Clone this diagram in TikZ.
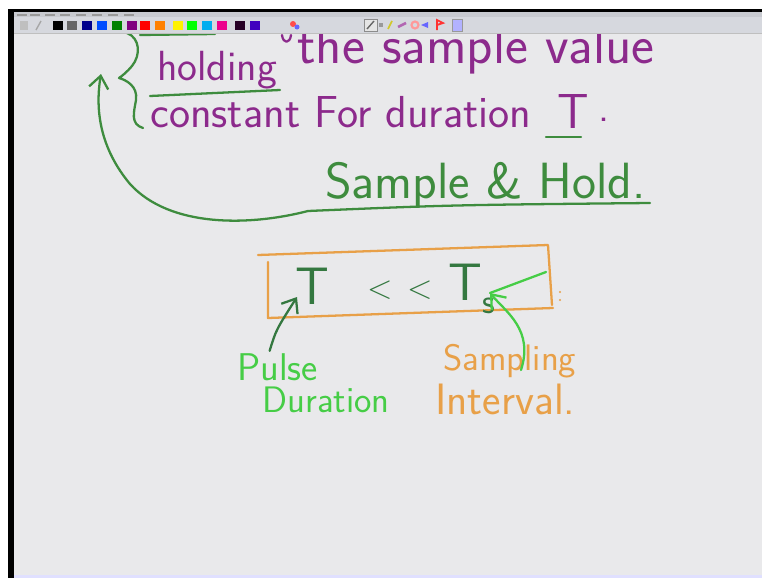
\documentclass[tikz,border=0pt]{standalone}
\RequirePackage{xcolor}
\tikzset{every picture/.style={/utils/exec={\sffamily}}}
\usetikzlibrary{calc}
\usetikzlibrary{positioning}
\usetikzlibrary{arrows.meta}

\definecolor{inkpurple}{RGB}{140,42,140}
\definecolor{inkgreen}{RGB}{62,140,62}
\definecolor{inklime}{RGB}{70,205,70}
\definecolor{inkdark}{RGB}{52,120,64}
\definecolor{inkorange}{RGB}{232,160,72}
\definecolor{board}{RGB}{233,233,235}
\definecolor{barfill}{RGB}{214,216,222}
\definecolor{titlebar}{RGB}{200,202,208}

\newcommand{\hand}[1]{\fontsize{#1}{#1}\selectfont}

\tikzset{
  pen/.style={line width=1.3pt, line cap=round, line join=round},
  word/.style={inner sep=0pt, anchor=base west},
}

\begin{document}
\begin{tikzpicture}[x=0.02cm, y=-0.02cm, >={Straight Barb[length=7pt,width=11pt]}]
  \useasboundingbox (0,0) rectangle (762,578);
  \fill [white] (0,0) rectangle (762,578);
  \fill [black] (8,9) rectangle (762,12);
  \fill [black] (8,9) rectangle (14,578);
  \fill [board] (14,12) rectangle (762,575);
  \fill [blue!12] (14,575) rectangle (762,578);

  % purple lines of the note
  \node [word, text=inkpurple] (holding) at (157,80) {\hand{24}holding};
  \node [word, text=inkpurple] (sampleval) at (297,64) {\hand{31}the sample value};
  \node [word, text=inkpurple] (constant) at (150,127) {\hand{25.5}constant For duration};
  \node [word, text=inkpurple] (durT) at (557,129) {\hand{28}T};
  \node [word, text=inkpurple] (stop) at (598,121) {\hand{24}.};
  \draw [pen, inkpurple] (282,35) .. controls (283,44) and (290,44) .. (291,35);

  % green marks on the note
  \draw [pen, inkgreen] (140,35) -- (215,34);
  \draw [pen, inkgreen] (150,96) -- (280,90);
  \draw [pen, inkgreen] (546,137) -- (581,137);
  \draw [pen, inkgreen] (127,33) .. controls (140,38) and (141,55) .. (132,66)
    .. controls (127,72) and (122,76) .. (119,78)
    .. controls (126,80) and (138,86) .. (136,100)
    .. controls (134,112) and (130,124) .. (143,128);
  \coordinate (bracetip) at (101,74);

  \node [word, text=inkgreen] (sh) at (325,198) {\hand{29}Sample \& Hold.};
  \coordinate (shfoot) at (308,211);
  \draw [pen, inkgreen] (shfoot) .. controls (450,205) .. (650,203);
  \draw [pen, inkgreen, ->] (shfoot) .. controls (250,226) and (170,228) .. (130,184)
    .. controls (100,148) and (95,110) .. (bracetip);

  % boxed relation
  \draw [pen, inkorange] (258,255) -- (548,245) -- (552,305);
  \draw [pen, inkorange] (268,262) -- (268,318) -- (553,308);
  \fill [inkorange] (560,292) circle (1.2) (560,300) circle (1.2);

  \node [word, text=inkdark] (pulseT) at (295,304) {\hand{30}T};
  \node [word, text=inkdark] (lessthan) at (367,298) {\hand{19}<\hspace{0.45em}<};
  \node [word, text=inkdark] (sampleT) at (448,300) {\hand{30}T\raisebox{-0.25em}{\hand{20}s}};

  \node [word, text=inklime] (pulse) at (237,380) {\hand{22}Pulse};
  \node [word, text=inklime] (duration) at ($(pulse.base west)+(25,32)$) {\hand{21}Duration};
  \node [word, text=inkorange] (sampling) at (443,370) {\hand{21}Sampling};
  \node [word, text=inkorange] (interval) at ($(sampling.base west)+(-8,44)$) {\hand{25}Interval.};

  \coordinate (ttip) at (297,297);
  \coordinate (tstip) at (490,293);
  \coordinate (sampfoot) at (521,370);
  \draw [pen, inkdark, ->] ($(pulse.north)+(-8,-2)$) .. controls (276,330) .. (ttip);
  \draw [pen, inklime, ->] (sampfoot) .. controls (534,330) and (506,312) .. (tstip);
  \draw [pen, inklime] (tstip) -- (546,272);

  % toolbar over the top of the board
  \fill [titlebar] (14,12) rectangle (762,17);
  \foreach \x in {17,30,45,60,76,92,108,124}
    \fill [black!40] (\x,13.5) rectangle ++(10,2.5);
  \fill [barfill] (14,17) rectangle (762,33);
  \draw [black!25] (14,33) -- (762,33);
  \fill [black!25] (20,21) rectangle (28,30);
  \draw [black!35, line width=0.8pt] (36,30) -- (41,21);
  \foreach \x/\c in {53/black, 67/black!60, 82/blue!55!black, 97/blue!70!cyan,
      112/green!50!black, 127/violet, 140/red, 155/orange, 173/yellow,
      187/green, 202/cyan, 217/magenta, 235/violet!30!black, 250/blue!50!violet}
    \fill [\c] (\x,21) rectangle ++(10,9);
  \fill [red!70] (293,24) circle (3);
  \fill [blue!60] (297,27) circle (2.5);
  \draw [black!45, fill=black!10] (364,19) rectangle (377,31);
  \draw [black!60, line width=0.8pt] (367,29) -- (374,21);
  \fill [black!40] (379,23) rectangle (383,27);
  \draw [yellow!80!black, line width=1pt] (388,29) -- (392,21);
  \draw [violet!60, line width=1.5pt] (398,27) -- (406,23);
  \draw [red!40, line width=1.2pt] (415,25) circle (3.5);
  \fill [blue!60] (421,25) -- (428,22) -- (428,28) -- cycle;
  \draw [red!80, line width=1pt] (437,30) -- (437,20) -- (443,23) -- (437,25);
  \draw [black!40, fill=blue!30] (452,19) rectangle (462,31);
\end{tikzpicture}
\end{document}
